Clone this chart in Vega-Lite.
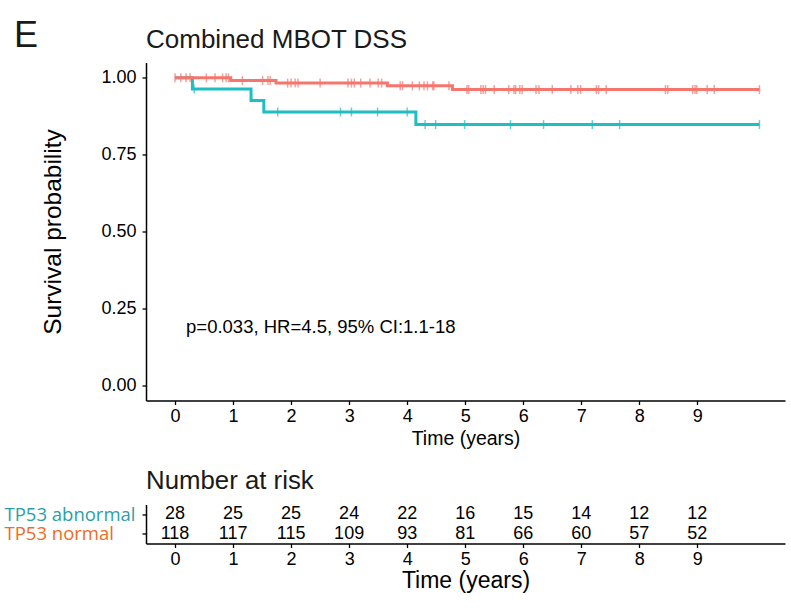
{
  "$schema": "https://vega.github.io/schema/vega-lite/v6.json",
  "background": "white",
  "autosize": {"type": "pad"},
  "padding": {"left": 4, "top": 17.5, "right": 6, "bottom": 5},
  "title": {"text": "E", "anchor": "start", "frame": "bounds", "fontSize": 36, "font": "Liberation Sans", "fontWeight": "normal", "color": "#1a1a1a", "baseline": "alphabetic", "offset": -56, "dx": 10},
  "config": {
    "view": {"stroke": null},
    "font": "Liberation Sans",
    "axis": {"grid": false, "domainColor": "black", "tickColor": "black", "labelColor": "black", "titleColor": "black", "labelFont": "Liberation Sans", "titleFont": "Liberation Sans", "titleFontWeight": "normal", "domainWidth": 1.5, "tickWidth": 1.3, "tickSize": 4}
  },
  "datasets": {
    "km": [
      {"t": 0, "s": 1.0, "group": "TP53 abnormal"},
      {"t": 0.30, "s": 0.964, "group": "TP53 abnormal"},
      {"t": 1.31, "s": 0.926, "group": "TP53 abnormal"},
      {"t": 1.53, "s": 0.889, "group": "TP53 abnormal"},
      {"t": 4.15, "s": 0.848, "group": "TP53 abnormal"},
      {"t": 10.07, "s": 0.848, "group": "TP53 abnormal"},
      {"t": 0, "s": 1.0, "group": "TP53 normal"},
      {"t": 0.96, "s": 0.9915, "group": "TP53 normal"},
      {"t": 1.74, "s": 0.983, "group": "TP53 normal"},
      {"t": 3.66, "s": 0.974, "group": "TP53 normal"},
      {"t": 4.78, "s": 0.962, "group": "TP53 normal"},
      {"t": 10.07, "s": 0.962, "group": "TP53 normal"}
    ],
    "censor": [
      {"t": 0.33, "s": 0.964, "group": "TP53 abnormal"},
      {"t": 1.77, "s": 0.889, "group": "TP53 abnormal"},
      {"t": 2.85, "s": 0.889, "group": "TP53 abnormal"},
      {"t": 3.04, "s": 0.889, "group": "TP53 abnormal"},
      {"t": 3.49, "s": 0.889, "group": "TP53 abnormal"},
      {"t": 4.0, "s": 0.889, "group": "TP53 abnormal"},
      {"t": 4.31, "s": 0.848, "group": "TP53 abnormal"},
      {"t": 4.49, "s": 0.848, "group": "TP53 abnormal"},
      {"t": 4.99, "s": 0.848, "group": "TP53 abnormal"},
      {"t": 5.78, "s": 0.848, "group": "TP53 abnormal"},
      {"t": 6.35, "s": 0.848, "group": "TP53 abnormal"},
      {"t": 7.19, "s": 0.848, "group": "TP53 abnormal"},
      {"t": 7.66, "s": 0.848, "group": "TP53 abnormal"},
      {"t": 10.07, "s": 0.848, "group": "TP53 abnormal"},
      {"t": 0.0, "s": 1.0, "group": "TP53 normal"},
      {"t": 0.10, "s": 1.0, "group": "TP53 normal"},
      {"t": 0.19, "s": 1.0, "group": "TP53 normal"},
      {"t": 0.26, "s": 1.0, "group": "TP53 normal"},
      {"t": 0.54, "s": 1.0, "group": "TP53 normal"},
      {"t": 0.69, "s": 1.0, "group": "TP53 normal"},
      {"t": 0.82, "s": 1.0, "group": "TP53 normal"},
      {"t": 0.88, "s": 1.0, "group": "TP53 normal"},
      {"t": 0.92, "s": 1.0, "group": "TP53 normal"},
      {"t": 1.16, "s": 0.9915, "group": "TP53 normal"},
      {"t": 1.51, "s": 0.9915, "group": "TP53 normal"},
      {"t": 1.60, "s": 0.9915, "group": "TP53 normal"},
      {"t": 1.64, "s": 0.9915, "group": "TP53 normal"},
      {"t": 1.94, "s": 0.983, "group": "TP53 normal"},
      {"t": 2.00, "s": 0.983, "group": "TP53 normal"},
      {"t": 2.07, "s": 0.983, "group": "TP53 normal"},
      {"t": 2.12, "s": 0.983, "group": "TP53 normal"},
      {"t": 2.50, "s": 0.983, "group": "TP53 normal"},
      {"t": 2.98, "s": 0.983, "group": "TP53 normal"},
      {"t": 3.04, "s": 0.983, "group": "TP53 normal"},
      {"t": 3.09, "s": 0.983, "group": "TP53 normal"},
      {"t": 3.20, "s": 0.983, "group": "TP53 normal"},
      {"t": 3.36, "s": 0.983, "group": "TP53 normal"},
      {"t": 3.50, "s": 0.983, "group": "TP53 normal"},
      {"t": 3.56, "s": 0.983, "group": "TP53 normal"},
      {"t": 3.88, "s": 0.974, "group": "TP53 normal"},
      {"t": 3.92, "s": 0.974, "group": "TP53 normal"},
      {"t": 4.09, "s": 0.974, "group": "TP53 normal"},
      {"t": 4.21, "s": 0.974, "group": "TP53 normal"},
      {"t": 4.29, "s": 0.974, "group": "TP53 normal"},
      {"t": 4.35, "s": 0.974, "group": "TP53 normal"},
      {"t": 4.44, "s": 0.974, "group": "TP53 normal"},
      {"t": 4.46, "s": 0.974, "group": "TP53 normal"},
      {"t": 4.72, "s": 0.974, "group": "TP53 normal"},
      {"t": 5.03, "s": 0.962, "group": "TP53 normal"},
      {"t": 5.06, "s": 0.962, "group": "TP53 normal"},
      {"t": 5.27, "s": 0.962, "group": "TP53 normal"},
      {"t": 5.31, "s": 0.962, "group": "TP53 normal"},
      {"t": 5.35, "s": 0.962, "group": "TP53 normal"},
      {"t": 5.50, "s": 0.962, "group": "TP53 normal"},
      {"t": 5.75, "s": 0.962, "group": "TP53 normal"},
      {"t": 5.84, "s": 0.962, "group": "TP53 normal"},
      {"t": 5.87, "s": 0.962, "group": "TP53 normal"},
      {"t": 5.94, "s": 0.962, "group": "TP53 normal"},
      {"t": 5.98, "s": 0.962, "group": "TP53 normal"},
      {"t": 6.22, "s": 0.962, "group": "TP53 normal"},
      {"t": 6.27, "s": 0.962, "group": "TP53 normal"},
      {"t": 6.50, "s": 0.962, "group": "TP53 normal"},
      {"t": 6.82, "s": 0.962, "group": "TP53 normal"},
      {"t": 6.94, "s": 0.962, "group": "TP53 normal"},
      {"t": 6.99, "s": 0.962, "group": "TP53 normal"},
      {"t": 7.26, "s": 0.962, "group": "TP53 normal"},
      {"t": 7.30, "s": 0.962, "group": "TP53 normal"},
      {"t": 7.43, "s": 0.962, "group": "TP53 normal"},
      {"t": 8.45, "s": 0.962, "group": "TP53 normal"},
      {"t": 8.49, "s": 0.962, "group": "TP53 normal"},
      {"t": 8.92, "s": 0.962, "group": "TP53 normal"},
      {"t": 8.96, "s": 0.962, "group": "TP53 normal"},
      {"t": 8.99, "s": 0.962, "group": "TP53 normal"},
      {"t": 9.17, "s": 0.962, "group": "TP53 normal"},
      {"t": 9.29, "s": 0.962, "group": "TP53 normal"},
      {"t": 10.07, "s": 0.962, "group": "TP53 normal"}
    ],
    "annot": [
      {"t": 0.19, "s": 0.19, "label": "p=0.033, HR=4.5, 95% CI:1.1-18"}
    ],
    "risk": [
      {"t": 0, "group": "TP53 abnormal", "n": 28},
      {"t": 1, "group": "TP53 abnormal", "n": 25},
      {"t": 2, "group": "TP53 abnormal", "n": 25},
      {"t": 3, "group": "TP53 abnormal", "n": 24},
      {"t": 4, "group": "TP53 abnormal", "n": 22},
      {"t": 5, "group": "TP53 abnormal", "n": 16},
      {"t": 6, "group": "TP53 abnormal", "n": 15},
      {"t": 7, "group": "TP53 abnormal", "n": 14},
      {"t": 8, "group": "TP53 abnormal", "n": 12},
      {"t": 9, "group": "TP53 abnormal", "n": 12},
      {"t": 0, "group": "TP53 normal", "n": 118},
      {"t": 1, "group": "TP53 normal", "n": 117},
      {"t": 2, "group": "TP53 normal", "n": 115},
      {"t": 3, "group": "TP53 normal", "n": 109},
      {"t": 4, "group": "TP53 normal", "n": 93},
      {"t": 5, "group": "TP53 normal", "n": 81},
      {"t": 6, "group": "TP53 normal", "n": 66},
      {"t": 7, "group": "TP53 normal", "n": 60},
      {"t": 8, "group": "TP53 normal", "n": 57},
      {"t": 9, "group": "TP53 normal", "n": 52}
    ]
  },
  "vconcat": [
    {
      "width": 639,
      "height": 338,
      "title": {"text": "Combined MBOT DSS", "anchor": "start", "frame": "group", "fontSize": 26, "font": "Liberation Sans", "fontWeight": "normal", "color": "#1a1a1a", "baseline": "alphabetic", "offset": -11.5},
      "layer": [
        {
          "data": {"name": "km"},
          "mark": {"type": "line", "interpolate": "step-after", "strokeWidth": 3},
          "encoding": {
            "x": {"field": "t", "type": "quantitative", "scale": {"domain": [-0.5, 10.51], "nice": false, "zero": false},
                  "axis": {"values": [0,1,2,3,4,5,6,7,8,9], "format": "d", "title": "Time (years)", "labelFontSize": 18, "labelPadding": 3, "titleFontSize": 19.5, "titlePadding": 4}},
            "y": {"field": "s", "type": "quantitative", "scale": {"domain": [-0.05, 1.05], "nice": false, "zero": false},
                  "axis": {"values": [0, 0.25, 0.5, 0.75, 1], "format": ".2f", "title": "Survival probability", "labelFontSize": 18, "labelPadding": 6, "titleFontSize": 24.5, "titlePadding": 35}},
            "color": {"field": "group", "type": "nominal", "scale": {"domain": ["TP53 abnormal", "TP53 normal"], "range": ["#1FBEC3", "#F4766D"]}, "legend": null}
          }
        },
        {
          "data": {"name": "censor"},
          "mark": {"type": "tick", "orient": "vertical", "size": 9, "thickness": 1.5},
          "encoding": {
            "x": {"field": "t", "type": "quantitative"},
            "y": {"field": "s", "type": "quantitative"},
            "color": {"field": "group", "type": "nominal", "legend": null}
          }
        },
        {
          "data": {"name": "annot"},
          "mark": {"type": "text", "align": "left", "baseline": "middle", "fontSize": 18.5, "font": "Liberation Sans", "color": "black"},
          "encoding": {
            "x": {"field": "t", "type": "quantitative"},
            "y": {"field": "s", "type": "quantitative"},
            "text": {"field": "label"}
          }
        }
      ]
    },
    {
      "width": 639,
      "height": 39,
      "title": {"text": "Number at risk", "anchor": "start", "frame": "group", "fontSize": 25.8, "font": "Liberation Sans", "fontWeight": "normal", "color": "#1a1a1a", "baseline": "alphabetic", "offset": -10.3},
      "data": {"name": "risk"},
      "mark": {"type": "text", "baseline": "middle", "align": "center", "fontSize": 18, "font": "Liberation Sans", "color": "black"},
      "encoding": {
        "x": {"field": "t", "type": "quantitative", "scale": {"domain": [-0.5, 10.51], "nice": false, "zero": false},
              "axis": {"values": [0,1,2,3,4,5,6,7,8,9], "format": "d", "title": "Time (years)", "labelFontSize": 18, "labelPadding": 3, "titleFontSize": 23, "titlePadding": 1}},
        "y": {"field": "group", "type": "nominal", "scale": {"type": "point", "domain": ["TP53 abnormal", "TP53 normal"], "padding": 0.5},
              "axis": {"title": null, "labelAlign": "left", "labelPadding": 138, "labelFont": "Open Sans", "labelFontSize": 18.5, "labelBaseline": "middle",
                       "labelColor": {"condition": {"test": "datum.value === 'TP53 abnormal'", "value": "#2A9FA6"}, "value": "#F26A24"}}},
        "text": {"field": "n", "type": "quantitative"}
      }
    }
  ],
  "spacing": 104,
  "bounds": "flush"
}
